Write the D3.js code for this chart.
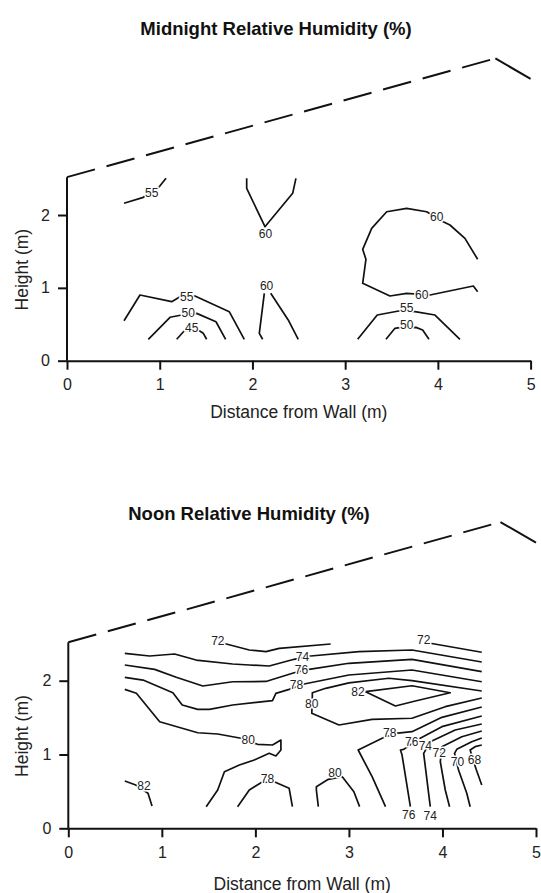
<!DOCTYPE html>
<html>
<head>
<meta charset="utf-8">
<script src="https://cdn.jsdelivr.net/npm/d3@7"></script>
<style>
  body { margin: 0; background: #fff; }
  svg { display: block; font-family: "Liberation Sans", Arial, sans-serif; }
  .contour { fill: none; stroke: #111; stroke-width: 1.7; stroke-linejoin: round; }
  .roof { fill: none; stroke: #111; stroke-width: 2; }
  .wall { fill: none; stroke: #111; stroke-width: 2; }
  .clabel { font-size: 12px; fill: #222; stroke: #fff; stroke-width: 3; paint-order: stroke; text-anchor: middle; }
  .axis path, .axis line { stroke: #111; stroke-width: 2; }
  .axis text { font-size: 16px; fill: #222; font-family: "Liberation Sans", Arial, sans-serif; }
  .title { font-size: 18.5px; font-weight: bold; fill: #111; text-anchor: middle; }
  .axtitle { font-size: 17.5px; fill: #222; text-anchor: middle; }
</style>
</head>
<body>
<div id="chart"></div>
<script>
// ---- data (metres / % RH) ----
var xTicks = [0, 1, 2, 3, 4, 5];
var yTicks = [0, 1, 2];

// roof outline: dashed rising part, solid falling part
var roofRise = [[0, 2.52], [4.62, 4.15]];
var roofFall = [[4.62, 4.15], [5.0, 3.87]];

var midnightLines = [
  { level: 55, pts: [[0.615,2.161],[0.823,2.243],[0.995,2.388],[1.068,2.504]] },
  { level: 60, pts: [[1.938,2.504],[1.938,2.366],[2.135,1.84],[2.434,2.298],[2.469,2.504]] },
  { level: 55, pts: [[0.615,0.549],[0.787,0.902],[1.129,0.81],[1.219,0.879],[1.38,0.888],[1.75,0.673],[1.912,0.294]] },
  { level: 50, pts: [[0.877,0.294],[1.111,0.596],[1.237,0.627],[1.399,0.65],[1.607,0.535],[1.711,0.294]] },
  { level: 45, pts: [[1.183,0.294],[1.273,0.421],[1.427,0.412],[1.47,0.376],[1.506,0.294]] },
  { level: 60, pts: [[2.128,0.925],[2.074,0.376],[2.11,0.294]] },
  { level: 60, pts: [[2.197,0.925],[2.386,0.559],[2.494,0.294]] },
  { level: 60, pts: [[4.429,1.392],[4.292,1.68],[4.13,1.863],[4.058,1.908],[3.879,2.045],[3.663,2.092],[3.448,2.045],[3.286,1.817],[3.189,1.529],[3.224,1.392],[3.189,1.062],[3.483,0.888],[3.663,0.925],[3.915,0.902],[4.382,1.025],[4.429,0.947]] },
  { level: 55, pts: [[3.135,0.294],[3.346,0.627],[3.591,0.686],[3.753,0.673],[3.969,0.627],[4.238,0.294]] },
  { level: 50, pts: [[3.44,0.294],[3.537,0.445],[3.584,0.453],[3.763,0.458],[3.836,0.421],[3.904,0.294]] }
];
var midnightLabels = [
  [0.913,2.312,"55"], [2.14,1.74,"60"], [1.291,0.879,"55"], [1.308,0.664,"50"], [1.345,0.453,"45"],
  [2.153,1.025,"60"], [3.987,1.977,"60"], [3.825,0.911,"60"], [3.663,0.728,"55"], [3.663,0.49,"50"]
];

var noonLines = [
  { level: 72, pts: [[1.658,2.507],[1.935,2.416],[2.113,2.393],[2.255,2.439],[2.805,2.497]] },
  { level: 72, pts: [[3.87,2.507],[4.42,2.385]] },
  { level: 74, pts: [[0.604,2.371],[0.87,2.335],[1.136,2.362],[1.367,2.28],[1.757,2.226],[1.935,2.213],[2.148,2.199],[2.414,2.29],[2.592,2.335],[3.106,2.393],[3.674,2.416],[4.42,2.253]] },
  { level: 76, pts: [[0.604,2.213],[0.923,2.154],[1.154,2.046],[1.438,1.928],[1.757,1.986],[2.113,1.99],[2.414,2.108],[2.574,2.154],[3.0,2.236],[3.674,2.29],[4.42,2.122]] },
  { level: 78, pts: [[0.604,2.046],[0.799,2.009],[1.118,1.837],[1.218,1.671],[1.384,1.612],[1.509,1.612],[1.757,1.671],[2.183,1.729],[2.219,1.829],[2.361,1.883],[2.521,1.955],[3.0,2.077],[3.674,2.145],[4.42,1.986]] },
  { level: 80, pts: [[0.604,1.883],[0.728,1.829],[0.977,1.444],[1.384,1.295],[1.597,1.278],[1.847,1.22],[2.023,1.138],[2.183,1.129],[2.273,1.196],[2.273,1.061],[2.219,0.98],[2.148,1.016],[1.988,0.925],[1.829,0.858],[1.669,0.767],[1.597,0.519],[1.474,0.293]] },
  { level: 80, pts: [[4.42,1.86],[3.674,2.0],[3.426,2.033],[3.0,1.97],[2.752,1.897],[2.609,1.837],[2.609,1.793],[2.603,1.558],[2.894,1.4],[3.248,1.477],[3.674,1.491],[4.03,1.648],[4.42,1.766]] },
  { level: 82, pts: [[3.178,1.851],[3.674,1.932],[4.083,1.837],[3.71,1.725],[3.497,1.657],[3.178,1.851]] },
  { level: 82, pts: [[0.604,0.641],[0.721,0.587],[0.852,0.474],[0.895,0.302]] },
  { level: 78, pts: [[1.81,0.293],[1.935,0.519],[2.06,0.618],[2.201,0.631],[2.361,0.542],[2.396,0.293]] },
  { level: 80, pts: [[2.673,0.293],[2.652,0.519],[2.652,0.564],[2.78,0.664],[2.929,0.699],[3.053,0.496],[3.114,0.293]] },
  { level: 78, pts: [[3.391,0.293],[3.248,0.699],[3.099,1.061],[3.355,1.22],[3.497,1.287],[3.674,1.309],[3.994,1.504],[4.42,1.644]] },
  { level: 76, pts: [[3.657,0.293],[3.568,0.993],[3.551,1.061],[3.586,1.07],[3.727,1.196],[3.994,1.377],[4.42,1.522]] },
  { level: 74, pts: [[3.87,0.293],[3.852,0.474],[3.799,1.016],[3.87,1.173],[4.136,1.332],[4.42,1.413]] },
  { level: 72, pts: [[4.076,0.293],[4.03,0.519],[3.977,0.902],[3.994,1.106],[4.207,1.241],[4.42,1.318]] },
  { level: 70, pts: [[4.296,0.293],[4.26,0.474],[4.172,0.79],[4.129,1.016],[4.153,1.07],[4.313,1.173],[4.42,1.224]] },
  { level: 68, pts: [[4.42,0.587],[4.36,0.799],[4.296,1.061],[4.349,1.106],[4.42,1.129]] }
];
var noonLabels = [
  [1.599,2.542,"72"], [3.799,2.551,"72"], [2.503,2.325,"74"], [2.492,2.145,"76"], [2.439,1.942,"78"],
  [2.603,1.684,"80"], [3.096,1.851,"82"], [1.924,1.203,"80"], [3.437,1.295,"78"], [3.671,1.169,"76"],
  [3.817,1.115,"74"], [3.966,1.024,"72"], [4.161,0.902,"70"], [4.342,0.925,"68"], [0.809,0.573,"82"],
  [2.13,0.678,"78"], [2.851,0.753,"80"], [3.639,0.18,"76"], [3.87,0.167,"74"]
];

// ---- layout ----
var width = 541, height = 893;
var panels = [
  { title: "Midnight Relative Humidity (%)", titleX: 276, titleY: 35,
    xr: [67, 530.6], yr: [360.7, 178.6], xTitleY: 418, lines: midnightLines, labels: midnightLabels },
  { title: "Noon Relative Humidity (%)", titleX: 249, titleY: 520,
    xr: [68.3, 536], yr: [828.3, 643.8], xTitleY: 890, lines: noonLines, labels: noonLabels }
];

var svg = d3.select('#chart').append('svg')
    .attr('width', width)
    .attr('height', height);

panels.forEach(function(p) {
  var x = d3.scaleLinear().domain([0, 5]).range(p.xr);
  var y = d3.scaleLinear().domain([0, 2.5]).range(p.yr);
  var line = d3.line().x(function(d) { return x(d[0]); }).y(function(d) { return y(d[1]); });
  var g = svg.append('g');

  g.append('text').attr('class', 'title')
    .attr('x', p.titleX).attr('y', p.titleY).text(p.title);

  // roof + wall
  g.append('path').attr('class', 'roof').attr('d', line(roofRise))
    .style('stroke-dasharray', '29,12');
  g.append('path').attr('class', 'roof').attr('d', line(roofFall));
  g.append('path').attr('class', 'wall').attr('d', line([[0, 0], roofRise[0]]));

  // axes
  g.append('g').attr('class', 'axis')
    .attr('transform', 'translate(0,' + y(0) + ')')
    .call(d3.axisBottom(x).tickValues(xTicks).tickFormat(d3.format('d'))
      .tickSize(9).tickSizeOuter(0).tickPadding(9));
  var ya = g.append('g').attr('class', 'axis')
    .attr('transform', 'translate(' + x(0) + ',0)')
    .call(d3.axisLeft(y).tickValues(yTicks).tickFormat(d3.format('d'))
      .tickSize(9).tickSizeOuter(0).tickPadding(8));
  ya.select('.domain').remove();

  g.append('text').attr('class', 'axtitle')
    .attr('x', (p.xr[0] + p.xr[1]) / 2).attr('y', p.xTitleY)
    .text('Distance from Wall (m)');
  g.append('text').attr('class', 'axtitle')
    .attr('transform', 'translate(28,' + (p.yr[0] + p.yr[1]) / 2 + ') rotate(-90)')
    .text('Height (m)');

  // contours
  g.selectAll('.contour').data(p.lines).enter()
    .append('path').attr('class', 'contour')
    .attr('d', function(d) { return line(d.pts); });

  g.selectAll('.clabel').data(p.labels).enter()
    .append('text').attr('class', 'clabel')
    .attr('x', function(d) { return x(d[0]); })
    .attr('y', function(d) { return y(d[1]); })
    .attr('dy', '0.36em')
    .text(function(d) { return d[2]; });
});
</script>
</body>
</html>
